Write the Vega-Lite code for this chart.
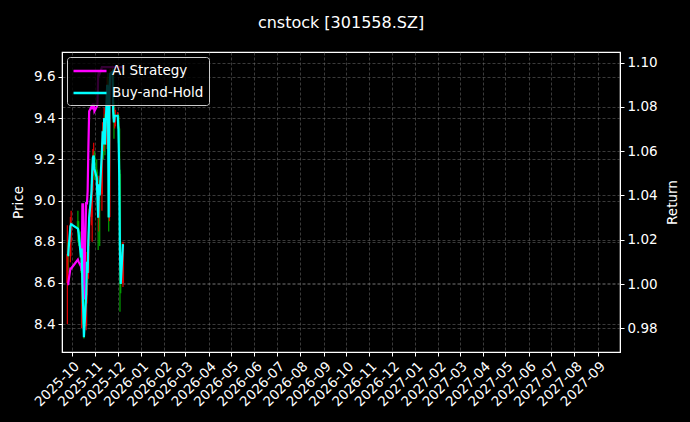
{
  "$schema": "https://vega.github.io/schema/vega-lite/v6.json",
  "autosize": "none",
  "width": 558,
  "height": 300,
  "padding": {"left": 62, "top": 52, "right": 70, "bottom": 70},
  "background": "black",
  "title": {"text": "cnstock [301558.SZ]", "color": "white", "font": "DejaVu Sans", "fontSize": 16, "fontWeight": "normal", "anchor": "middle", "offset": 21},
  "config": {
    "view": {"stroke": "white", "strokeWidth": 1.2},
    "axis": {"labelColor": "white", "titleColor": "white", "tickColor": "white", "domainColor": "white", "labelFont": "DejaVu Sans", "titleFont": "DejaVu Sans", "labelFontSize": 13.5, "titleFontSize": 13.5, "titleFontWeight": "normal", "tickSize": 4, "labelPadding": 3, "gridColor": "#777777", "gridOpacity": 0.7, "gridDash": [3, 2], "gridWidth": 0.7},
    "legend": {"labelFont": "DejaVu Sans", "labelFontSize": 13.5, "labelColor": "white"}
  },
  "data": {"values": [
    {"date": "2025-09-25", "open": 8.60, "high": 8.88, "low": 8.40, "close": 8.74, "AI Strategy": 1.000, "Buy-and-Hold": 1.013},
    {"date": "2025-09-26", "open": 8.74, "high": 8.80, "low": 8.65, "close": 8.73, "AI Strategy": 1.000, "Buy-and-Hold": 1.013},
    {"date": "2025-09-29", "open": 8.73, "high": 8.92, "low": 8.70, "close": 8.88, "AI Strategy": 1.007, "Buy-and-Hold": 1.026},
    {"date": "2025-09-30", "open": 8.88, "high": 8.95, "low": 8.80, "close": 8.89, "AI Strategy": 1.007, "Buy-and-Hold": 1.027},
    {"date": "2025-10-09", "open": 8.90, "high": 8.95, "low": 8.80, "close": 8.86, "AI Strategy": 1.011, "Buy-and-Hold": 1.025},
    {"date": "2025-10-10", "open": 8.86, "high": 8.90, "low": 8.78, "close": 8.84, "AI Strategy": 1.010, "Buy-and-Hold": 1.023},
    {"date": "2025-10-13", "open": 8.80, "high": 8.85, "low": 8.65, "close": 8.72, "AI Strategy": 1.008, "Buy-and-Hold": 1.012},
    {"date": "2025-10-14", "open": 8.72, "high": 8.82, "low": 8.38, "close": 8.77, "AI Strategy": 1.006, "Buy-and-Hold": 1.016},
    {"date": "2025-10-15", "open": 8.77, "high": 8.80, "low": 8.50, "close": 8.60, "AI Strategy": 1.036, "Buy-and-Hold": 1.000},
    {"date": "2025-10-16", "open": 8.60, "high": 8.65, "low": 8.40, "close": 8.49, "AI Strategy": 1.036, "Buy-and-Hold": 0.990},
    {"date": "2025-10-17", "open": 8.49, "high": 8.55, "low": 8.33, "close": 8.39, "AI Strategy": 0.993, "Buy-and-Hold": 0.976},
    {"date": "2025-10-20", "open": 8.39, "high": 8.60, "low": 8.37, "close": 8.54, "AI Strategy": 1.037, "Buy-and-Hold": 0.995},
    {"date": "2025-10-21", "open": 8.54, "high": 8.75, "low": 8.50, "close": 8.70, "AI Strategy": 1.036, "Buy-and-Hold": 1.010},
    {"date": "2025-10-22", "open": 8.70, "high": 8.78, "low": 8.60, "close": 8.65, "AI Strategy": 1.042, "Buy-and-Hold": 1.005},
    {"date": "2025-10-23", "open": 8.65, "high": 8.85, "low": 8.62, "close": 8.81, "AI Strategy": 1.062, "Buy-and-Hold": 1.020},
    {"date": "2025-10-24", "open": 8.81, "high": 8.96, "low": 8.78, "close": 8.92, "AI Strategy": 1.078, "Buy-and-Hold": 1.030},
    {"date": "2025-10-27", "open": 8.92, "high": 9.08, "low": 8.88, "close": 9.04, "AI Strategy": 1.080, "Buy-and-Hold": 1.041},
    {"date": "2025-10-28", "open": 9.04, "high": 9.18, "low": 8.80, "close": 9.13, "AI Strategy": 1.079, "Buy-and-Hold": 1.050},
    {"date": "2025-10-29", "open": 9.13, "high": 9.25, "low": 9.05, "close": 9.21, "AI Strategy": 1.081, "Buy-and-Hold": 1.057},
    {"date": "2025-10-30", "open": 9.21, "high": 9.28, "low": 9.12, "close": 9.22, "AI Strategy": 1.081, "Buy-and-Hold": 1.058},
    {"date": "2025-10-31", "open": 9.22, "high": 9.24, "low": 9.10, "close": 9.15, "AI Strategy": 1.078, "Buy-and-Hold": 1.052},
    {"date": "2025-11-03", "open": 9.15, "high": 9.20, "low": 9.05, "close": 9.11, "AI Strategy": 1.080, "Buy-and-Hold": 1.048},
    {"date": "2025-11-04", "open": 9.11, "high": 9.14, "low": 8.95, "close": 9.03, "AI Strategy": 1.081, "Buy-and-Hold": 1.040},
    {"date": "2025-11-05", "open": 9.03, "high": 9.06, "low": 8.76, "close": 8.92, "AI Strategy": 1.094, "Buy-and-Hold": 1.030},
    {"date": "2025-11-06", "open": 8.92, "high": 9.12, "low": 8.85, "close": 9.08, "AI Strategy": 1.096, "Buy-and-Hold": 1.045},
    {"date": "2025-11-07", "open": 9.08, "high": 9.10, "low": 8.78, "close": 9.03, "AI Strategy": 1.095, "Buy-and-Hold": 1.040},
    {"date": "2025-11-10", "open": 9.03, "high": 9.28, "low": 8.95, "close": 9.24, "AI Strategy": 1.098, "Buy-and-Hold": 1.060},
    {"date": "2025-11-11", "open": 9.24, "high": 9.38, "low": 9.20, "close": 9.34, "AI Strategy": 1.098, "Buy-and-Hold": 1.069},
    {"date": "2025-11-12", "open": 9.34, "high": 9.36, "low": 9.20, "close": 9.27, "AI Strategy": 1.098, "Buy-and-Hold": 1.063},
    {"date": "2025-11-13", "open": 9.27, "high": 9.45, "low": 9.24, "close": 9.40, "AI Strategy": 1.098, "Buy-and-Hold": 1.075},
    {"date": "2025-11-14", "open": 9.40, "high": 9.42, "low": 9.22, "close": 9.27, "AI Strategy": 1.098, "Buy-and-Hold": 1.063},
    {"date": "2025-11-17", "open": 9.27, "high": 9.60, "low": 9.25, "close": 9.56, "AI Strategy": 1.098, "Buy-and-Hold": 1.090},
    {"date": "2025-11-18", "open": 9.56, "high": 9.62, "low": 9.45, "close": 9.53, "AI Strategy": 1.098, "Buy-and-Hold": 1.087},
    {"date": "2025-11-19", "open": 9.53, "high": 9.55, "low": 8.85, "close": 8.92, "AI Strategy": 1.098, "Buy-and-Hold": 1.030},
    {"date": "2025-11-20", "open": 8.92, "high": 9.58, "low": 8.90, "close": 9.53, "AI Strategy": 1.098, "Buy-and-Hold": 1.087},
    {"date": "2025-11-21", "open": 9.53, "high": 9.64, "low": 9.50, "close": 9.62, "AI Strategy": 1.098, "Buy-and-Hold": 1.095},
    {"date": "2025-11-24", "open": 9.62, "high": 9.655, "low": 9.55, "close": 9.63, "AI Strategy": 1.098, "Buy-and-Hold": 1.096},
    {"date": "2025-11-25", "open": 9.63, "high": 9.64, "low": 9.40, "close": 9.43, "AI Strategy": 1.098, "Buy-and-Hold": 1.078},
    {"date": "2025-11-26", "open": 9.43, "high": 9.48, "low": 9.30, "close": 9.38, "AI Strategy": 1.098, "Buy-and-Hold": 1.073},
    {"date": "2025-11-27", "open": 9.38, "high": 9.45, "low": 9.35, "close": 9.41, "AI Strategy": 1.098, "Buy-and-Hold": 1.076},
    {"date": "2025-11-28", "open": 9.41, "high": 9.44, "low": 9.36, "close": 9.41, "AI Strategy": 1.098, "Buy-and-Hold": 1.076},
    {"date": "2025-12-01", "open": 9.41, "high": 9.43, "low": 9.35, "close": 9.41, "AI Strategy": 1.098, "Buy-and-Hold": 1.076},
    {"date": "2025-12-02", "open": 9.41, "high": 9.42, "low": 9.28, "close": 9.35, "AI Strategy": 1.098, "Buy-and-Hold": 1.070},
    {"date": "2025-12-03", "open": 9.35, "high": 9.36, "low": 9.10, "close": 9.13, "AI Strategy": 1.098, "Buy-and-Hold": 1.050},
    {"date": "2025-12-04", "open": 9.13, "high": 9.15, "low": 8.46, "close": 8.75, "AI Strategy": 1.098, "Buy-and-Hold": 1.015},
    {"date": "2025-12-05", "open": 8.75, "high": 8.80, "low": 8.55, "close": 8.60, "AI Strategy": 1.098, "Buy-and-Hold": 1.000},
    {"date": "2025-12-08", "open": 8.60, "high": 8.80, "low": 8.58, "close": 8.79, "AI Strategy": 1.098, "Buy-and-Hold": 1.018}
  ]},
  "encoding": {
    "x": {"field": "date", "type": "temporal",
      "scale": {"domain": [{"year": 2025, "month": 9, "date": 24, "hours": 12}, {"year": 2027, "month": 9, "date": 24}]},
      "axis": {"title": null, "format": "%Y-%m", "tickCount": {"interval": "month", "step": 1}, "labelAngle": -45, "labelAlign": "right", "labelBaseline": "top", "labelOverlap": false, "labelFlush": false, "grid": true}}
  },
  "layer": [
    {
      "encoding": {
        "y": {"field": "low", "type": "quantitative", "scale": {"domain": [8.265, 9.721], "nice": false, "zero": false},
          "axis": {"title": "Price", "values": [8.4, 8.6, 8.8, 9.0, 9.2, 9.4, 9.6], "format": ".1f", "grid": true, "titlePadding": 8}},
        "color": {"condition": {"test": "datum.close >= datum.open", "value": "#ee0000"}, "value": "#00a800"}
      },
      "layer": [
        {"mark": {"type": "rule", "strokeWidth": 1.3, "opacity": 0.9}, "encoding": {"y2": {"field": "high"}}},
        {"mark": {"type": "bar", "size": 2.2, "opacity": 0.85}, "encoding": {"y": {"field": "open", "type": "quantitative"}, "y2": {"field": "close"}}}
      ]
    },
    {
      "transform": [{"fold": ["AI Strategy", "Buy-and-Hold"], "as": ["series", "ret"]}],
      "mark": {"type": "line", "strokeWidth": 2.2},
      "encoding": {
        "y": {"field": "ret", "type": "quantitative", "scale": {"domain": [0.9693, 1.1048], "nice": false, "zero": false},
          "axis": {"orient": "right", "title": "Return", "titleAngle": 270, "titleBaseline": "top", "values": [0.98, 1.0, 1.02, 1.04, 1.06, 1.08, 1.1], "format": ".2f", "grid": true, "titlePadding": 8}},
        "color": {"field": "series", "type": "nominal", "scale": {"domain": ["AI Strategy", "Buy-and-Hold"], "range": ["#ff00ff", "#00ffff"]},
          "legend": {"title": null, "orient": "top-left", "offset": 5, "padding": 5, "fillColor": "rgba(0,0,0,0.8)", "strokeColor": "#cccccc", "cornerRadius": 3, "symbolType": "M-1,0H3.4", "symbolSize": 225, "symbolStrokeWidth": 2.5, "labelOffset": 22, "rowPadding": 6}}
      }
    }
  ],
  "resolve": {"scale": {"y": "independent", "color": "independent"}}
}
